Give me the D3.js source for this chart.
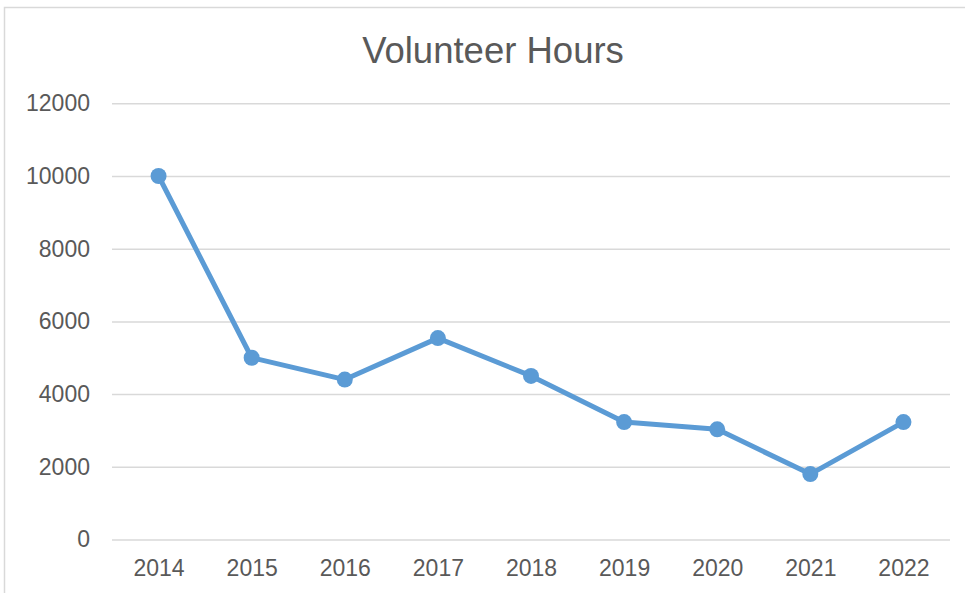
<!DOCTYPE html>
<html>
<head>
<meta charset="utf-8">
<script src="https://cdn.jsdelivr.net/npm/d3@7/dist/d3.min.js"></script>
<style>
  html, body { margin: 0; padding: 0; background: #fff; }
  svg { display: block; }
</style>
</head>
<body>
<svg id="chart" width="965" height="593"></svg>
<script>
// Volunteer hours per year
const years = ["2014", "2015", "2016", "2017", "2018", "2019", "2020", "2021", "2022"];
const hours = [10000, 5000, 4400, 5540, 4500, 3230, 3030, 1800, 3230];
const yTicks = [0, 2000, 4000, 6000, 8000, 10000, 12000];
const title = "Volunteer Hours";

const W = 965, H = 593;
const margin = { left: 112, right: 15, top: 103.3, bottom: 53.5 };
const font = "'Liberation Sans', Arial, sans-serif";
const textColor = "#595959";
const lineColor = "#5b9bd5";
const gridColor = "#d9d9d9";

const svg = d3.select("#chart");

// outer chart frame
svg.append("rect")
  .attr("x", 4.5).attr("y", 7.5)
  .attr("width", W + 20).attr("height", H + 20)
  .attr("fill", "#fff")
  .attr("stroke", gridColor).attr("stroke-width", 1.5);

const x = d3.scalePoint()
  .domain(years)
  .range([margin.left, W - margin.right])
  .padding(0.5);

const y = d3.scaleLinear()
  .domain([0, 12000])
  .range([H - margin.bottom, margin.top]);

// title
svg.append("text")
  .attr("x", 493).attr("y", 63)
  .attr("text-anchor", "middle")
  .attr("font-family", font)
  .attr("font-size", 36.5)
  .attr("fill", textColor)
  .text(title);

// y axis: gridlines + labels
const yAxis = d3.axisLeft(y)
  .tickValues(yTicks)
  .tickFormat(d3.format("d"))
  .tickSize(-(W - margin.right - margin.left))
  .tickPadding(22);

const gy = svg.append("g")
  .attr("transform", `translate(${margin.left},0)`)
  .call(yAxis);
gy.select(".domain").remove();
gy.selectAll(".tick line")
  .attr("stroke", gridColor)
  .attr("stroke-width", 1.5);
gy.selectAll(".tick text")
  .attr("font-family", font)
  .attr("font-size", 23)
  .attr("fill", textColor);

// x axis labels
const xAxis = d3.axisBottom(x).tickSize(0).tickPadding(20);
const gx = svg.append("g")
  .attr("transform", `translate(0,${y(0)})`)
  .call(xAxis);
gx.select(".domain").remove();
gx.selectAll(".tick text")
  .attr("font-family", font)
  .attr("font-size", 23)
  .attr("fill", textColor);

// series line
const line = d3.line()
  .x((d, i) => x(years[i]))
  .y(d => y(d));

svg.append("path")
  .datum(hours)
  .attr("d", line)
  .attr("fill", "none")
  .attr("stroke", lineColor)
  .attr("stroke-width", 5)
  .attr("stroke-linejoin", "round")
  .attr("stroke-linecap", "round");

// markers
svg.append("g")
  .selectAll("circle")
  .data(hours)
  .join("circle")
  .attr("cx", (d, i) => x(years[i]))
  .attr("cy", d => y(d))
  .attr("r", 8)
  .attr("fill", lineColor);
</script>
</body>
</html>
